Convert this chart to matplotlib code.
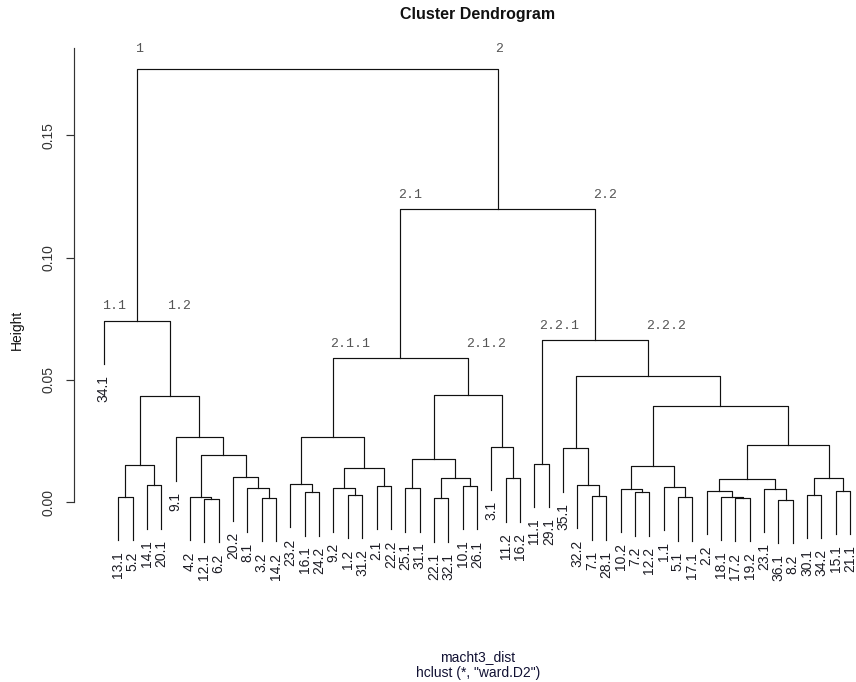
import matplotlib
matplotlib.use("Agg")
import matplotlib.pyplot as plt

# Leaves in plotting order (left to right)
leaf_labels = [
    "34.1", "13.1", "5.2", "14.1", "20.1", "9.1", "4.2", "12.1", "6.2",
    "20.2", "8.1", "3.2", "14.2", "23.2", "16.1", "24.2", "9.2", "1.2",
    "31.2", "2.1", "22.2", "25.1", "31.1", "22.1", "32.1", "10.1", "26.1",
    "3.1", "11.2", "16.2", "11.1", "29.1", "35.1", "32.2", "7.1", "28.1",
    "10.2", "7.2", "12.2", "1.1", "5.1", "17.1", "2.2", "18.1", "17.2",
    "19.2", "23.1", "36.1", "8.2", "30.1", "34.2", "15.1", "21.1",
]

# hclust-style merge table: negative = leaf (1-based), positive = earlier merge row
merge_pairs = [
    (-2, -3), (-4, -5), (1, 2), (-8, -9), (-7, 4), (-12, -13), (-11, 6),
    (-10, 7), (5, 8), (-6, 9), (3, 10), (-1, 11),
    (-15, -16), (-14, 13), (-18, -19), (-17, 15), (-20, -21), (16, 17),
    (14, 18), (-22, -23), (-24, -25), (-26, -27), (21, 22), (20, 23),
    (-29, -30), (-28, 25), (24, 26), (19, 27),
    (-31, -32), (-35, -36), (-34, 30), (-33, 31), (-38, -39), (-37, 33),
    (-41, -42), (-40, 35), (34, 36), (-45, -46), (-44, 38), (-43, 39),
    (-48, -49), (-47, 41), (40, 42), (-50, -51), (-52, -53), (44, 45),
    (43, 46), (37, 47), (32, 48), (29, 49), (28, 50), (12, 51),
]
merge_heights = [
    0.0020, 0.0068, 0.0151, 0.0012, 0.0020, 0.0016, 0.0056,
    0.0101, 0.0192, 0.0265, 0.0435, 0.0742,
    0.0040, 0.0074, 0.0029, 0.0056, 0.0065, 0.0139,
    0.0267, 0.0056, 0.0015, 0.0065, 0.0098, 0.0175,
    0.0097, 0.0226, 0.0439, 0.0588,
    0.0157, 0.0023, 0.0070, 0.0220, 0.0040, 0.0053,
    0.0019, 0.0061, 0.0146, 0.0016, 0.0020, 0.0045,
    0.0008, 0.0053, 0.0093, 0.0030, 0.0045, 0.0097,
    0.0232, 0.0394, 0.0514, 0.0662, 0.1198, 0.1772,
]

# Cluster names written above the two branches of selected merges
cluster_names = {
    52: ("1", "2"),
    12: ("1.1", "1.2"),
    51: ("2.1", "2.2"),
    28: ("2.1.1", "2.1.2"),
    50: ("2.2.1", "2.2.2"),
}

y_ticks = [0.00, 0.05, 0.10, 0.15]

n = len(leaf_labels)
hang = 0.1 * max(merge_heights)

W, H, DPI = 856, 682, 100
fig = plt.figure(figsize=(W / DPI, H / DPI), dpi=DPI)
fig.patch.set_facecolor("white")

# plot region in pixels
left_px, right_px, top_px, bottom_px = 74, 880, 48, 612
ax = fig.add_axes([left_px / W, 1 - bottom_px / H,
                   (right_px - left_px) / W, (bottom_px - top_px) / H])
ax.set_xlim(1 - 0.04 * (n - 1), n + 0.04 * (n - 1))
ax.set_ylim(-0.045, 0.18576)

line_kw = dict(color="#111111", lw=0.85, solid_capstyle="projecting")

node_x = {}


def child_info(c, parent_h):
    if c < 0:
        return float(-c), parent_h - hang
    return node_x[c], merge_heights[c - 1]


for i, (a, b) in enumerate(merge_pairs, start=1):
    h = merge_heights[i - 1]
    xa, ya = child_info(a, h)
    xb, yb = child_info(b, h)
    node_x[i] = (xa + xb) / 2
    ax.plot([xa, xa, xb, xb], [ya, h, h, yb], **line_kw)

# leaf labels hanging below each leaf
for i, (a, b) in enumerate(merge_pairs, start=1):
    h = merge_heights[i - 1]
    for c in (a, b):
        if c < 0:
            ax.annotate(leaf_labels[-c - 1], xy=(-c, h - hang),
                        xytext=(0, -8), textcoords="offset points",
                        rotation=90, ha="center", va="top",
                        fontsize=10, family="Liberation Sans",
                        color="#1c1c24")

# cluster names
for m, names in cluster_names.items():
    h = merge_heights[m - 1]
    a, b = merge_pairs[m - 1]
    for c, name in zip((a, b), names):
        cx = float(-c) if c < 0 else node_x[c]
        dy = 10 if "." not in name else 6
        ax.annotate(name, xy=(cx, h), xytext=(-1.5, dy),
                    textcoords="offset points", ha="left", va="bottom",
                    fontsize=9.5, family="Liberation Mono", color="#555555")

# axes styling
for s in ("top", "right", "bottom"):
    ax.spines[s].set_visible(False)
ax.spines["left"].set_bounds(0, ax.get_ylim()[1])
ax.spines["left"].set_color("#333333")
ax.spines["left"].set_linewidth(0.85)
ax.set_xticks([])
ax.set_yticks(y_ticks)
ax.set_yticklabels([f"{t:.2f}" for t in y_ticks])
ax.tick_params(axis="y", length=6, width=0.85, color="#333333",
               pad=7, labelsize=10, labelcolor="#333333", labelrotation=90)
for lab in ax.get_yticklabels():
    lab.set_family("Liberation Sans")
    lab.set_va("center")

fig.text(478 / W, 1 - 15 / H, "Cluster Dendrogram", ha="center", va="center",
         fontsize=11.5, fontweight="bold", family="Liberation Sans",
         color="#111111")
fig.text(17 / W, 1 - 330 / H, "Height", rotation=90, ha="center",
         va="center", fontsize=10, family="Liberation Sans", color="#111111")
fig.text(478 / W, 1 - 657 / H, "macht3_dist", ha="center", va="center",
         fontsize=10, family="Liberation Sans", color="#111133")
fig.text(478 / W, 1 - 673 / H, 'hclust (*, "ward.D2")', ha="center",
         va="center", fontsize=10, family="Liberation Sans", color="#111133")

fig.savefig("out.png", dpi=DPI)
